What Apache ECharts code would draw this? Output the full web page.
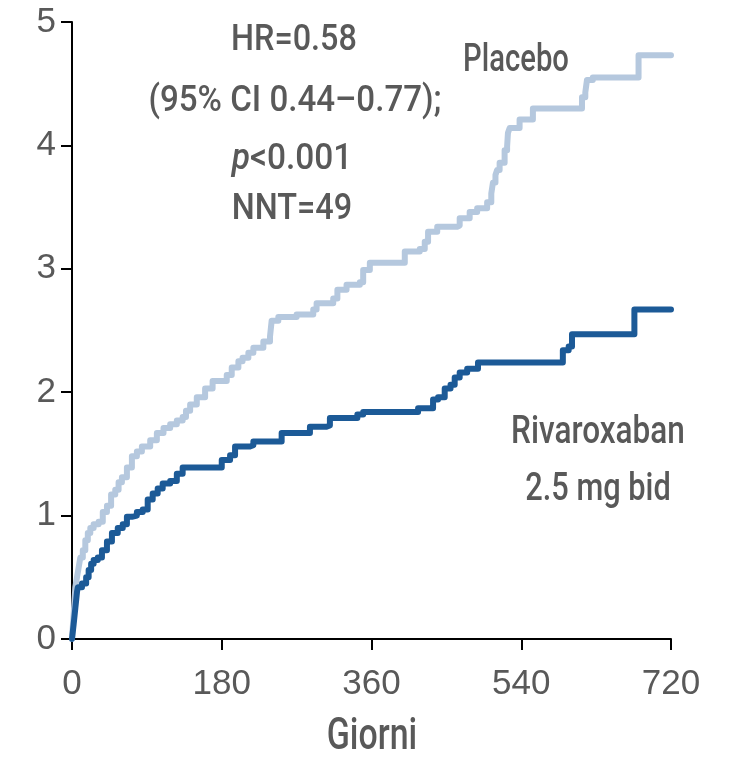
<!DOCTYPE html>
<html style="height: 100%; width:100%">
<head>
    <meta charset="utf-8">
    <script type="text/javascript" src="https://cdn.jsdelivr.net/npm/echarts@6/dist/echarts.min.js"></script>
</head>
<body style="height: 100%; width: 100%; margin: 0; background:#fff;">
<div id="container" style="height: 760px;width:730px"></div>
<script type="text/javascript">
    // ticks
    var dayTicks = [0, 180, 360, 540, 720];
    var riskTicks = [0, 1, 2, 3, 4, 5];

    // Placebo (cumulative %, step curve)
    var placeboDays = [0, 2, 4, 6, 8, 10, 13, 16, 19, 22, 26, 32, 37, 42, 47, 52, 56, 60, 66, 72, 78, 84, 94, 102, 110, 118, 126, 133, 137, 142, 150, 160, 169, 186, 192, 200, 205, 212, 218, 230, 238, 240, 248, 270, 290, 294, 314, 319, 330, 346, 350, 358, 400, 418, 424, 428, 439, 463, 466, 478, 487, 499, 504, 506, 509, 511, 514, 520, 523, 524, 526, 538, 554, 613, 617, 619, 626, 681, 720];
    var placeboRisk = [0, 0.2, 0.42, 0.5, 0.58, 0.66, 0.72, 0.8, 0.86, 0.9, 0.93, 0.95, 1.03, 1.08, 1.17, 1.21, 1.27, 1.31, 1.39, 1.48, 1.52, 1.56, 1.61, 1.67, 1.71, 1.74, 1.77, 1.8, 1.85, 1.9, 1.96, 2.03, 2.09, 2.14, 2.2, 2.25, 2.28, 2.32, 2.36, 2.41, 2.45, 2.58, 2.61, 2.63, 2.67, 2.72, 2.76, 2.83, 2.87, 2.89, 2.99, 3.05, 3.14, 3.16, 3.22, 3.3, 3.34, 3.35, 3.41, 3.46, 3.49, 3.54, 3.61, 3.7, 3.76, 3.8, 3.86, 3.96, 3.99, 4.1, 4.14, 4.21, 4.3, 4.39, 4.43, 4.53, 4.55, 4.73, 4.73];

    // Rivaroxaban 2.5 mg bid
    var rivaDays = [0, 2, 4, 6, 7, 12, 17, 20, 23, 26, 31, 36, 42, 48, 55, 61, 66, 72, 78, 85, 91, 97, 103, 109, 118, 126, 133, 180, 190, 196, 214, 218, 252, 286, 306, 310, 343, 350, 416, 434, 440, 448, 455, 460, 466, 475, 488, 590, 597, 601, 676, 720];
    var rivaRisk = [0, 0.12, 0.25, 0.38, 0.42, 0.45, 0.5, 0.56, 0.61, 0.64, 0.66, 0.72, 0.79, 0.86, 0.9, 0.93, 0.99, 1.0, 1.03, 1.05, 1.13, 1.18, 1.22, 1.26, 1.28, 1.34, 1.39, 1.45, 1.49, 1.56, 1.57, 1.6, 1.67, 1.72, 1.73, 1.79, 1.82, 1.84, 1.87, 1.94, 1.96, 2.03, 2.06, 2.12, 2.16, 2.19, 2.24, 2.34, 2.37, 2.47, 2.67, 2.67];

    var textColor = "#595959";
    var condFont = "Roboto";

    function zip(xs, ys) {
        var out = [];
        for (var i = 0; i < xs.length; i++) out.push([xs[i], ys[i]]);
        return out;
    }

    function note(text, x, y, size, sx, rich) {
        return {
            type: "text",
            x: x,
            y: y,
            scaleX: sx,
            style: {
                text: text,
                fill: textColor,
                fontSize: size,
                fontFamily: condFont,
                fontWeight: 500,
                align: "center",
                verticalAlign: "middle",
                rich: rich
            }
        };
    }

    var dom = document.getElementById("container");
    var myChart = echarts.init(dom, null, {renderer: "canvas"});

    var axisCommon = {
        type: "value",
        splitLine: {show: false},
        axisLine: {show: true, onZero: false, lineStyle: {color: "#000", width: 2}},
        axisTick: {show: true, inside: false, length: 11, lineStyle: {color: "#000", width: 2}},
        axisLabel: {color: textColor, fontSize: 35, fontFamily: "Liberation Sans"}
    };

    var option = {
        animation: false,
        backgroundColor: "#fff",
        grid: {left: 72, right: 59, top: 22, bottom: 121, containLabel: false},
        xAxis: echarts.util.merge({
            min: dayTicks[0],
            max: dayTicks[dayTicks.length - 1],
            interval: dayTicks[1] - dayTicks[0],
            axisLabel: {margin: 28}
        }, axisCommon),
        yAxis: echarts.util.merge({
            min: riskTicks[0],
            max: riskTicks[riskTicks.length - 1],
            interval: 1,
            axisLabel: {margin: 16}
        }, axisCommon),
        series: [{
            name: "Placebo",
            type: "line",
            step: "end",
            showSymbol: false,
            clip: false,
            data: zip(placeboDays, placeboRisk),
            lineStyle: {color: "#b5c8de", width: 6, cap: "round", join: "round"},
            itemStyle: {color: "#b5c8de"}
        }, {
            name: "Rivaroxaban 2.5 mg bid",
            type: "line",
            step: "end",
            showSymbol: false,
            clip: false,
            data: zip(rivaDays, rivaRisk),
            lineStyle: {color: "#1c5a97", width: 6, cap: "round", join: "round"},
            itemStyle: {color: "#1c5a97"}
        }],
        graphic: [
            note("HR=0.58", 294, 41, 36, 0.9),
            note("(95% CI 0.44\u20130.77);", 295, 102, 36, 0.92),
            note("{i|p}<0.001", 292, 160, 36, 0.93, {i: {fontStyle: "italic", fontWeight: 500, fontSize: 36, fontFamily: condFont, fill: textColor}}),
            note("NNT=49", 292, 210, 36, 0.9),
            note("Placebo", 516, 61, 38, 0.77),
            note("Rivaroxaban", 598, 433, 38, 0.83),
            note("2.5 mg bid", 598, 490, 38, 0.81),
            note("Giorni", 372, 738, 44, 0.77)
        ]
    };
    myChart.setOption(option, true);
</script>
</body>
</html>
